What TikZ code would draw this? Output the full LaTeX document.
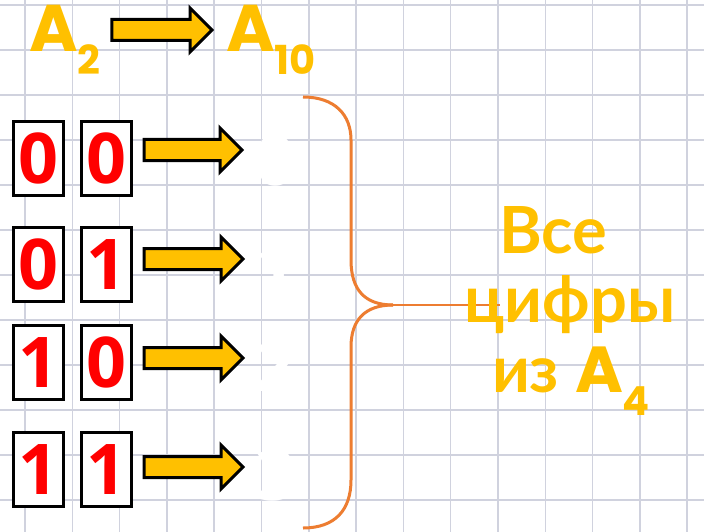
\documentclass[tikz,border=0pt]{standalone}
\usepackage{fontspec}
\newfontfamily\popfont{Poppins}
\newfontfamily\latfont{Lato}
\newfontfamily\digfont{Open Sans}
\definecolor{gold}{RGB}{255,192,0}
\definecolor{bracecol}{RGB}{237,125,49}
\definecolor{gridcol}{RGB}{208,210,222}
\newcommand\lowsub[1]{\raisebox{-23pt}{\fontsize{40}{40}\selectfont #1}}
\tikzset{
  bit/.style={draw, line width=3pt, fill=white, minimum width=50pt, minimum height=74pt, inner sep=0pt, text=red, font=\digfont\bfseries\fontsize{70}{70}\selectfont},
  ghost/.style={inner sep=0pt, text=white, font=\digfont\bfseries\fontsize{70}{70}\selectfont},
  headtxt/.style={inner sep=0pt, text=gold, font=\popfont\bfseries\fontsize{66}{66}\selectfont},
  sidetxt/.style={inner sep=0pt, text=gold, font=\latfont\bfseries\fontsize{65}{65}\selectfont},
  gridline/.style={draw=gridcol, line width=1.5pt},
  bracepath/.style={draw=bracecol, line width=3pt},
  fatarrow/.style={fill=gold, draw=black, line width=3pt, line join=miter, to path={
    ([xshift=11pt,yshift=10.5pt]\tikztostart.east |- \tikztotarget) -- ([xshift=-22pt,yshift=10.5pt]\tikztotarget) -- ([xshift=-22pt,yshift=22pt]\tikztotarget) -- (\tikztotarget) -- ([xshift=-22pt,yshift=-22pt]\tikztotarget) -- ([xshift=-22pt,yshift=-10.5pt]\tikztotarget) -- ([xshift=11pt,yshift=-10.5pt]\tikztostart.east |- \tikztotarget) -- cycle}}
}
\begin{document}
\begin{tikzpicture}[x=1pt, y=-1pt]
\useasboundingbox[fill=white] (0,0) rectangle (704,532);
\foreach \gx in {0,...,14} \draw[gridline] ({25+47.3*\gx},0) -- ({25+47.3*\gx},532);
\foreach \gy in {0,...,11} \draw[gridline] (0,{5+45*\gy}) -- (704,{5+45*\gy});

\node[headtxt, anchor=base west] (a2) at (29,52) {A\lowsub{2}};
\node[headtxt, anchor=base west] (a10) at (226,52) {A\lowsub{10}};
\coordinate (tt) at (212,30);
\draw[fatarrow] (a2) to (tt);

\node[bit] (l0) at (38.5,158.5) {0};
\node[bit] (r0) at (106.5,158.5) {0};
\node[bit] (l1) at (38.5,264.5) {0};
\node[bit] (r1) at (106.5,264.5) {1};
\node[bit] (l2) at (38.5,362.5) {1};
\node[bit] (r2) at (106.5,362.5) {0};
\node[bit] (l3) at (38.5,469.5) {1};
\node[bit] (r3) at (106.5,469.5) {1};

\coordinate (t0) at (242,150);
\coordinate (t1) at (243,259);
\coordinate (t2) at (243,358);
\coordinate (t3) at (243,467);
\draw[fatarrow] (r0) to (t0);
\draw[fatarrow] (r1) to (t1);
\draw[fatarrow] (r2) to (t2);
\draw[fatarrow] (r3) to (t3);

\node[ghost, anchor=base] (d0) at (275,185) {0};
\node[ghost, anchor=base] (d1) at (275,292) {1};
\node[ghost, anchor=base] (d2) at (275,391) {2};
\node[ghost, anchor=base] (d3) at (275,500) {3};

\coordinate (peak) at (393,305);
\draw[bracepath] (303,97) .. controls (335,97) and (351,115) .. (351,140) -- (351,260) .. controls (351,290) and (365,305) .. (peak);
\draw[bracepath] (peak) .. controls (365,305) and (351,320) .. (351,347) -- (351,480) .. controls (351,510) and (335,528) .. (303,528);
\draw[bracecol, line width=1.5pt] (peak) -- (500,305);

\node[sidetxt, anchor=base] (all1) at (553,253) {Все};
\node[sidetxt, anchor=base] (all2) at (570,322) {цифры};
\node[sidetxt, anchor=base] (all3) at (571,392) {из {\popfont A\lowsub{4}}};
\end{tikzpicture}
\end{document}
